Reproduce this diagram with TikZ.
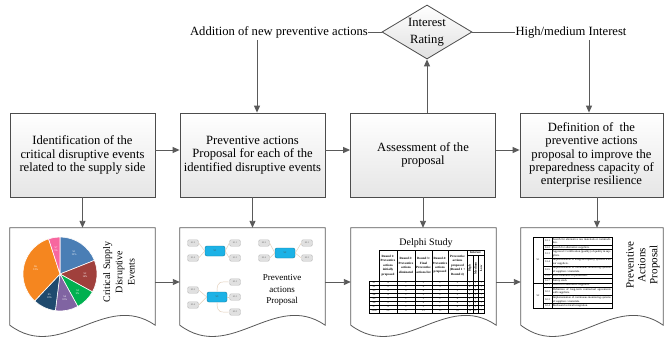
\documentclass[tikz,border=0pt]{standalone}
\usepackage{fontspec}
\setmainfont{Liberation Serif}
\usetikzlibrary{shapes.geometric,arrows.meta,calc}
\definecolor{lnc}{HTML}{5A5A5A}
\definecolor{pSa}{HTML}{4A7EB5}
\definecolor{pSb}{HTML}{A0403C}
\definecolor{pSc}{HTML}{00B050}
\definecolor{pSd}{HTML}{8064A2}
\definecolor{pSe}{HTML}{1F4A6E}
\definecolor{pSf}{HTML}{F5861F}
\definecolor{pSg}{HTML}{F7679F}
\definecolor{mmcy}{HTML}{1CB2E6}
\definecolor{mmln}{HTML}{E2CDB8}
\newcommand\docshape[1]{\draw[docst] (#1.north west) -- (#1.north east) -- (#1.south east)
  .. controls ($(#1.south east)!0.35!(#1.south west)+(0,-35)$) and ($(#1.south east)!0.65!(#1.south west)+(0,38)$) .. (#1.south west) -- cycle;}
\begin{document}
\begin{tikzpicture}[x=1pt,y=-1pt,
 every node/.style={inner sep=0pt},
 arr/.style={draw=lnc, line width=0.9pt, -{Triangle[length=7pt,width=6pt]}},
 ln/.style={draw=lnc, line width=0.9pt},
 procbox/.style={draw=black!70, line width=0.8pt, top color=white, bottom color=black!10, minimum width=145pt, minimum height=84pt, align=center, font=\fontsize{12.6}{13.3}\selectfont},
 docarea/.style={minimum width=145pt, minimum height=97pt},
 docst/.style={draw=black!65, line width=0.8pt, fill=white},
 lbl/.style={font=\fontsize{12.6}{15}\selectfont},
 mmleaf/.style={draw=black!25, fill=black!12, rounded corners=1.5pt, minimum width=11pt, minimum height=6.5pt, font=\fontsize{2.4}{3}\selectfont, text=black!60},
 mmhub/.style={draw=mmcy!70!black, fill=mmcy, rounded corners=2pt, minimum width=20pt, minimum height=10pt, font=\fontsize{2.6}{3}\selectfont, text=black!70},
 mml/.style={draw=mmln, line width=0.45pt},
 tbl/.style={draw=black, line width=0.35pt},
 tblo/.style={draw=black, line width=0.6pt},
 hcell/.style={font=\bfseries\fontsize{3.2}{4.4}\selectfont, align=center},
 dcell/.style={font=\fontsize{2.6}{3}\selectfont},
 pcode/.style={font=\fontsize{2.6}{3}\selectfont},
 ptext/.style={anchor=west, text width=58pt, align=justify, font=\fontsize{2.9}{3.5}\selectfont},
 ]
\fill[white] (0,0) rectangle (664,340);
\useasboundingbox (0,0) rectangle (664,340);

% top row boxes
\node[procbox] (b1) at (82.5,155) {Identification of the\\critical disruptive events\\related to the supply side};
\node[procbox] (b2) at (252.5,155) {Preventive actions\\Proposal for each of the\\identified disruptive events};
\node[procbox] (b3) at (423,155) {Assessment of the\\proposal};
\node[procbox, minimum width=143pt] (b4) at (591.5,155) {Definition of \ the\\preventive actions\\proposal to improve the\\preparedness capacity of\\enterprise resilience};

% decision
\node[diamond, aspect=1.667, draw=black!70, line width=0.8pt, top color=white, bottom color=black!12, minimum width=90pt, minimum height=54pt, align=center, font=\fontsize{12.6}{16.5}\selectfont] (dia) at (427,32) {Interest\\Rating};
\node[lbl] (add) at (279,32) {Addition of new preventive actions};
\node[lbl] (hi) at (571,32) {High/medium Interest};
\draw[ln] (add.east) -- (dia.west);
\draw[ln] (dia.east) -- (hi.west);
\draw[arr] ([xshift=-22pt,yshift=-2pt]add.south) -- ([xshift=-22pt]add.south |- b2.north);
\draw[arr] ([xshift=18pt,yshift=-2pt]hi.south) -- ([xshift=18pt]hi.south |- b4.north);
\draw[arr] (dia.south |- b3.north) -- (dia.south);

\draw[arr] ([yshift=5pt]b1.east) -- ([yshift=5pt]b1.east -| b2.west);
\draw[arr] ([yshift=5pt]b2.east) -- ([yshift=5pt]b2.east -| b3.west);
\draw[arr] ([yshift=5pt]b3.east) -- ([yshift=5pt]b3.east -| b4.west);

% documents
\node[docarea] (d1) at (82.5,276.5) {};
\node[docarea] (d2) at (252.5,276.5) {};
\node[docarea] (d3) at (423.5,276.5) {};
\node[docarea, minimum width=142pt] (d4) at (592,276.5) {};
\docshape{d1}
\docshape{d2}
\docshape{d3}
\docshape{d4}

\draw[arr] (b1.south) -- (b1.south |- d1.north);
\draw[arr] (b2.south) -- (b2.south |- d2.north);
\draw[arr] (b3.south) -- (b3.south |- d3.north);
\draw[arr] ([xshift=5.5pt]b4.south) -- ([xshift=5.5pt]b4.south |- d4.north);

\draw[arr] ([yshift=-5.5pt]d1.east) -- ([yshift=-5.5pt]d1.east -| d2.west);
\draw[arr] ([yshift=-5.5pt]d2.east) -- ([yshift=-5.5pt]d2.east -| d3.west);
\draw[arr] ([yshift=-5.5pt]d3.east) -- ([yshift=-5.5pt]d3.east -| d4.west);

% doc 1: pie chart
\begin{scope}[shift={(60,274)}]
\foreach \a/\b/\c/\n/\p in {-90/-21.6/pSa/S1/19, -21.6/28.8/pSb/S2/14, 28.8/61.2/pSc/S3/9, 61.2/97.2/pSd/S4/10, 97.2/133.2/pSe/S5/10, 133.2/252/pSf/S6/33, 252/270/pSg/S7/5}{
  \filldraw[fill=\c, draw=white, line width=0.6pt] (0,0) -- (\a:37) arc[start angle=\a, end angle=\b, radius=37] -- cycle;
  \node[font=\fontsize{2.6}{3}\selectfont, text=white, align=center] (pl\n) at ({(\a+\b)/2}:25) {\n\\\p\%};
}
\end{scope}
\node[rotate=90, align=center, font=\fontsize{10}{12.3}\selectfont] (cs) at (119,272) {Critical Supply\\Disruptive\\Events};

% doc 2: mind maps
\node[mmhub] (h1) at (215,251) {S1};
\node[mmleaf] (l12) at (193,243) {S1.2};
\node[mmleaf] (l14) at (193,258) {S1.4};
\node[mmleaf] (l11) at (235,243) {S1.1};
\node[mmleaf] (l13) at (235,258) {S1.3};
\draw[mml] (h1.west) -- (l12.east);
\draw[mml] (h1.west) -- (l14.east);
\draw[mml] (h1.east) -- (l11.west);
\draw[mml] (h1.east) -- (l13.west);
\node[mmhub] (h2) at (285,253) {S2};
\node[mmleaf] (l22) at (264,243) {S2.2};
\node[mmleaf] (l24) at (264,258) {S2.4};
\node[mmleaf] (l21) at (307,243) {S2.1};
\node[mmleaf] (l23) at (307,258) {S2.3};
\draw[mml] (h2.west) -- (l22.east);
\draw[mml] (h2.west) -- (l24.east);
\draw[mml] (h2.east) -- (l21.west);
\draw[mml] (h2.east) -- (l23.west);
\node[mmhub] (h3) at (217,297) {S3};
\node[mmleaf] (l32) at (193,290) {S3.2};
\node[mmleaf] (l34) at (193,305) {S3.4};
\node[mmleaf] (l31) at (235,282) {S3.1};
\node[mmleaf] (l33) at (235,297) {S3.3};
\node[mmleaf] (l35) at (235,312) {S3.5};
\draw[mml] (h3.west) -- (l32.east);
\draw[mml] (h3.west) -- (l34.east);
\draw[mml] (h3.north) .. controls +(0,-12) and +(-8,0) .. (l31.west);
\draw[mml] (h3.east) -- (l33.west);
\draw[mml] (h3.south) .. controls +(0,12) and +(-8,0) .. (l35.west);
\node[align=center, font=\fontsize{9}{11.7}\selectfont] (pa) at (282,290) {Preventive\\actions\\Proposal};

% doc 3: Delphi table
\node[font=\fontsize{10}{12}\selectfont] (ds) at (426,243) {Delphi Study};
\draw[tblo] (379,250) rectangle (484,281);
\foreach \x in {397,415,432,448,467} {\draw[tbl] (\x,250) -- (\x,281);}
\draw[tbl] (467,255.5) -- (484,255.5);
\draw[tbl] (472.7,255.5) -- (472.7,281);
\draw[tbl] (478.3,255.5) -- (478.3,281);
\node[hcell] (hr1) at (388,265.5) {Round 1:\\Preventive\\actions\\initially\\proposed};
\node[hcell] (hr2) at (406,265.5) {Round 2:\\Preventive\\actions\\eliminated};
\node[hcell] (hr3) at (423.5,265.5) {Round 3:\\Final\\Preventive\\actions list};
\node[hcell] (hr4) at (440,265.5) {Round 4:\\Preventive\\actions\\proposed};
\node[hcell] (hr5) at (457.5,265.5) {Preventive\\actions\\proposed\\(Round 1 +\\Round 4)};
\node[hcell] (hint) at (475.5,252.75) {Interest};
\node[hcell, rotate=90] (hh) at (469.85,268.25) {High};
\node[hcell, rotate=90] (hm) at (475.5,268.25) {Medium};
\node[hcell, rotate=90] (hl) at (481.15,268.25) {Low};
\draw[tblo] (369,281) rectangle (484,313);
\foreach \y in {285,289,293,297,301,305,309} {\draw[tbl] (369,\y) -- (484,\y);}
\foreach \x in {379,397,415,432,448,467,472.7,478.3} {\draw[tbl] (\x,281) -- (\x,313);}
\foreach \la/\va/\vb/\vc/\vd/\ve/\vh/\vm/\vl [count=\i from 0] in
 {S1/4/1/3/2/5/3/1/1, S2/5/1/4/3/7/4/2/1, S3/4/0/4/1/5/2/2/1, S4/4/1/3/2/5/2/2/1,
  S5/3/1/2/2/4/2/1/1, S6/5/1/4/2/6/3/2/1, S7/4/1/3/1/4/2/1/1, Total/29/6/23/13/36/18/11/7}{
  \node[dcell] (r\i c0) at (374,{283+4*\i}) {\la};
  \node[dcell] (r\i c1) at (388,{283+4*\i}) {\va};
  \node[dcell] (r\i c2) at (406,{283+4*\i}) {\vb};
  \node[dcell] (r\i c3) at (423.5,{283+4*\i}) {\vc};
  \node[dcell] (r\i c4) at (440,{283+4*\i}) {\vd};
  \node[dcell] (r\i c5) at (457.5,{283+4*\i}) {\ve};
  \node[dcell] (r\i c6) at (469.85,{283+4*\i}) {\vh};
  \node[dcell] (r\i c7) at (475.5,{283+4*\i}) {\vm};
  \node[dcell] (r\i c8) at (481.15,{283+4*\i}) {\vl};
}

% doc 4: proposal table
\draw[tblo] (533,237) rectangle (612,308.1);
\draw[tbl] (543,237) -- (543,308.1);
\draw[tbl] (552,237) -- (552,308.1);
\foreach \y in {245.1,249.6,257.7,265.8,273.9,278.4,287.4,295.5,303.6} {\draw[tbl] (543,\y) -- (612,\y);}
\draw[tblo] (533,282.9) -- (612,282.9);
\node[pcode] (g1) at (538,260) {S1};
\node[pcode] (g2) at (538,295.5) {S2};
\node[pcode] (c11) at (547.5,241.05) {S1.1};
\node[pcode] (c12) at (547.5,247.35) {S1.2};
\node[pcode] (c13) at (547.5,253.65) {S1.3};
\node[pcode] (c14) at (547.5,261.75) {S1.4};
\node[pcode] (c15) at (547.5,269.85) {S1.5};
\node[pcode] (c16) at (547.5,276.15) {S1.6};
\node[pcode] (c17) at (547.5,280.65) {S1.7};
\node[pcode] (c21) at (547.5,285.15) {S2.1};
\node[pcode] (c22) at (547.5,291.45) {S2.2};
\node[pcode] (c23) at (547.5,299.55) {S2.3};
\node[pcode] (c24) at (547.5,305.85) {S2.4};
\node[ptext] (t11) at (552.6,241.05) {Search for alternative raw materials or commodities.};
\node[ptext] (t12) at (552.6,247.35) {Search for alternative suppliers.};
\node[ptext] (t13) at (552.6,253.65) {Approval / Certification (quality) of quality in suppliers.};
\node[ptext] (t14) at (552.6,261.75) {Implementation of integrated quality systems with our suppliers.};
\node[ptext] (t15) at (552.6,269.85) {Implementation of continuous monitoring systems of suppliers / materials.};
\node[ptext] (t16) at (552.6,276.15) {Price insurance in production.};
\node[ptext] (t17) at (552.6,280.65) {Safety stock};
\node[ptext] (t21) at (552.6,285.15) {Search for alternative suppliers.};
\node[ptext] (t22) at (552.6,291.45) {Definition of long-term contractual agreements with suppliers.};
\node[ptext] (t23) at (552.6,299.55) {Implementation of continuous monitoring systems of suppliers / materials.};
\node[ptext] (t24) at (552.6,305.85) {Backward vertical integration.};
\node[rotate=90, align=center, font=\fontsize{11}{11.8}\selectfont] (pap) at (643,265) {Preventive\\Actions\\Proposal};
\end{tikzpicture}
\end{document}
